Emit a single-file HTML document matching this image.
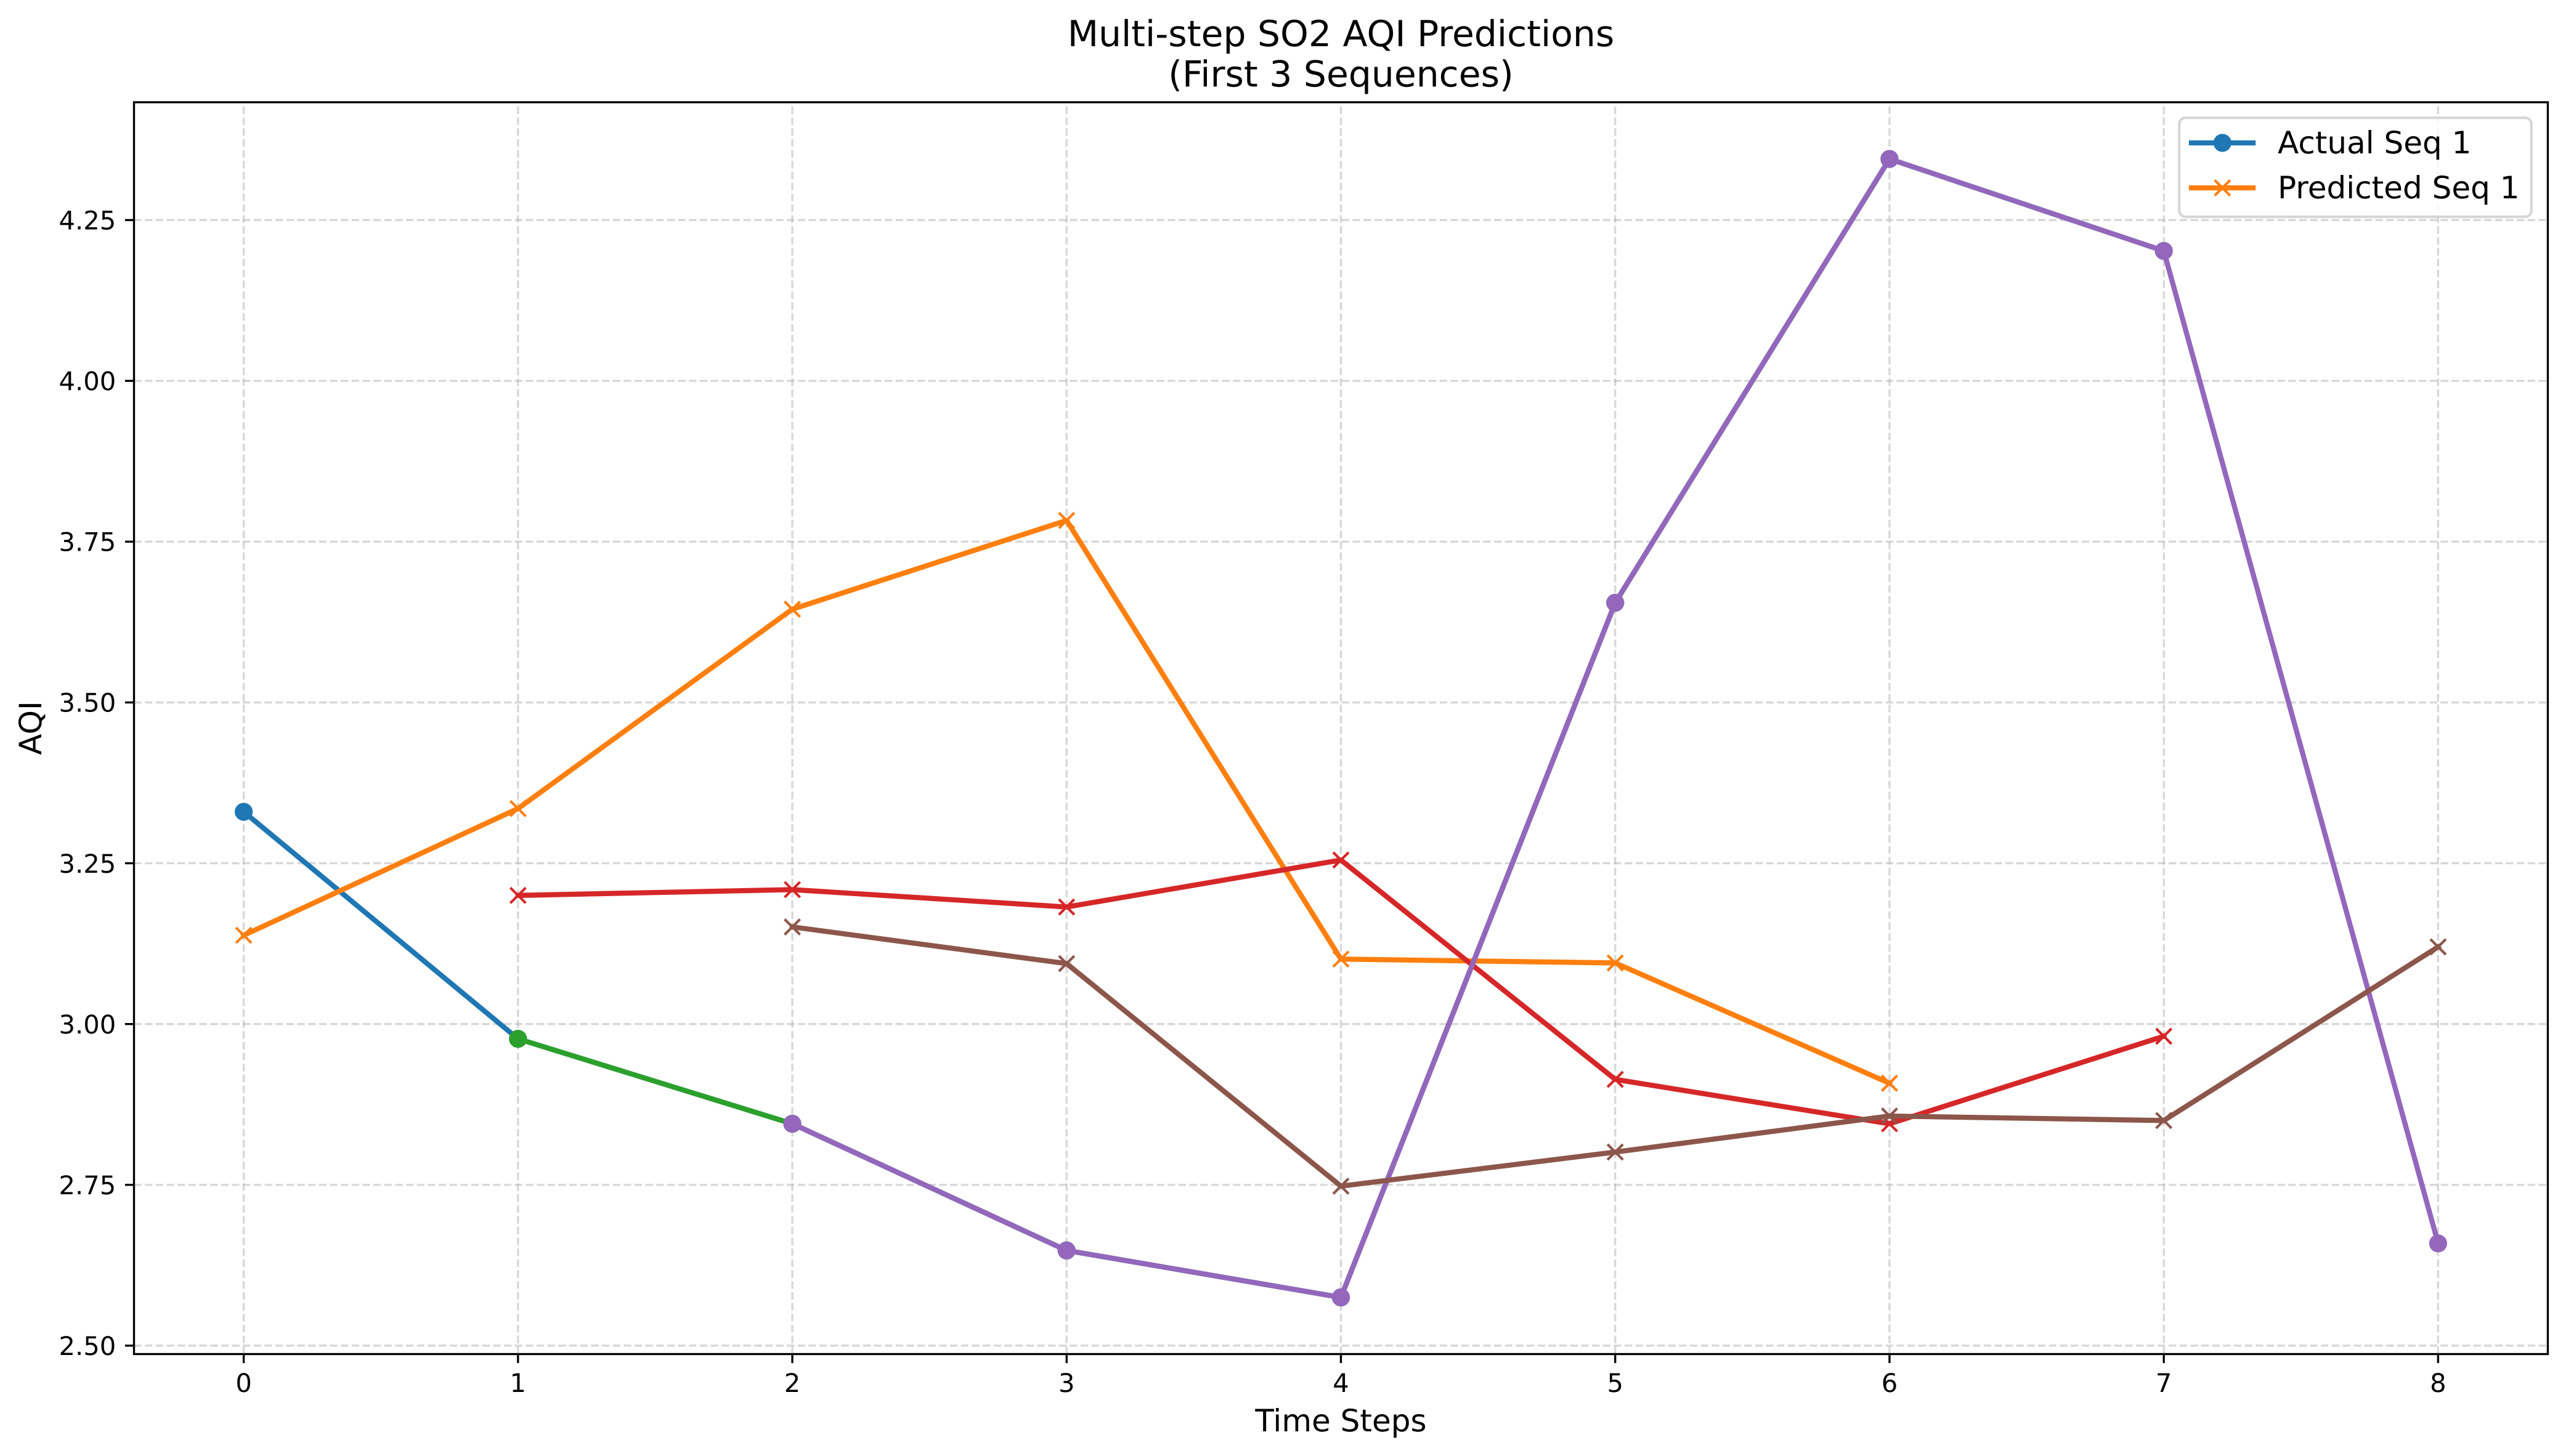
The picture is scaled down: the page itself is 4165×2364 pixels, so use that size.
<!DOCTYPE html>
<html lang="en">
<head>
<meta charset="utf-8">
<title>Multi-step SO2 AQI Predictions</title>
<style>
html,body{margin:0;padding:0;background:#fff;width:4165px;height:2364px;overflow:hidden}
svg{display:block}
text{font-family:"DejaVu Sans","Liberation Sans",sans-serif;fill:#000;text-rendering:geometricPrecision}
</style>
</head>
<body>
<svg id="chart" xmlns="http://www.w3.org/2000/svg" width="4165" height="2364" viewBox="0 0 4165 2364">
  <rect x="0" y="0" width="4165" height="2364" fill="#ffffff"/>
  <text x="2176.5" y="75" font-size="58.33" text-anchor="middle">Multi-step SO2 AQI Predictions</text>
  <text x="2176.5" y="140.5" font-size="58.33" text-anchor="middle">(First 3 Sequences)</text>
  <text x="2176.5" y="2324" font-size="50" text-anchor="middle">Time Steps</text>
  <text x="0" y="0" font-size="50" text-anchor="middle" transform="translate(67 1182) rotate(-90)">AQI</text>
  <g id="grid"></g>
  <g id="series"></g>
  <g id="axes"></g>
  <g>
    <rect x="3537.3" y="191.3" width="571.5" height="160.7" rx="10" ry="10" fill="#ffffff" fill-opacity="0.8" stroke="#cccccc" stroke-opacity="0.8" stroke-width="4.17"/>
    <g>
      <line x1="3557" y1="232" x2="3657" y2="232" stroke="#1f77b4" stroke-width="8.33" stroke-linecap="square"/>
      <circle cx="3607.3" cy="232" r="12.5" fill="#1f77b4" stroke="#1f77b4" stroke-width="4.17"/>
      <text x="3697" y="249" font-size="50">Actual Seq 1</text>
    </g>
    <g>
      <line x1="3557" y1="305" x2="3657" y2="305" stroke="#ff7f0e" stroke-width="8.33" stroke-linecap="square"/>
      <path d="M3594.8 292.5L3619.8 317.5M3594.8 317.5L3619.8 292.5" fill="none" stroke="#ff7f0e" stroke-width="4.17"/>
      <text x="3697" y="322" font-size="50">Predicted Seq 1</text>
    </g>
  </g>
</svg>
<script>
// Chart data
const xTickValues = [0, 1, 2, 3, 4, 5, 6, 7, 8];
const xTickLabels = ["0", "1", "2", "3", "4", "5", "6", "7", "8"];
const yTickValues = [2.5, 2.75, 3, 3.25, 3.5, 3.75, 4, 4.25];
const yTickLabels = ["2.50", "2.75", "3.00", "3.25", "3.50", "3.75", "4.00", "4.25"];

const actualSeq1Steps = [0, 1, 2, 3, 4, 5, 6];
const actualSeq1Values = [3.33, 2.977, 2.845, 2.648, 2.575, 3.655, 4.345];
const predictedSeq1Steps = [0, 1, 2, 3, 4, 5, 6];
const predictedSeq1Values = [3.138, 3.335, 3.645, 3.783, 3.101, 3.095, 2.908];

const actualSeq2Steps = [1, 2, 3, 4, 5, 6, 7];
const actualSeq2Values = [2.977, 2.845, 2.648, 2.575, 3.655, 4.345, 4.202];
const predictedSeq2Steps = [1, 2, 3, 4, 5, 6, 7];
const predictedSeq2Values = [3.2, 3.209, 3.182, 3.255, 2.914, 2.845, 2.981];

const actualSeq3Steps = [2, 3, 4, 5, 6, 7, 8];
const actualSeq3Values = [2.845, 2.648, 2.575, 3.655, 4.345, 4.202, 2.659];
const predictedSeq3Steps = [2, 3, 4, 5, 6, 7, 8];
const predictedSeq3Values = [3.151, 3.094, 2.748, 2.801, 2.857, 2.85, 3.12];

// Axis geometry
const plotLeft = 217.5, plotRight = 4135.5, plotTop = 166, plotBottom = 2198.5;
const xDomainMin = -0.4, xDomainMax = 8.4;
const yAnchorValue = 4.25, yAnchorPixel = 357.3, yPixelsPerUnit = 1044.3;

function xScale(step) {
  return plotLeft + (step - xDomainMin) / (xDomainMax - xDomainMin) * (plotRight - plotLeft);
}
function yScale(value) {
  return yAnchorPixel + (yAnchorValue - value) * yPixelsPerUnit;
}

const SVG_NS = "http://www.w3.org/2000/svg";
function make(tag, attrs, parent) {
  const el = document.createElementNS(SVG_NS, tag);
  for (const key in attrs) el.setAttribute(key, attrs[key]);
  parent.appendChild(el);
  return el;
}

// Grid
const gridGroup = document.getElementById("grid");
const gridStyle = {stroke: "#b0b0b0", "stroke-opacity": 0.5, "stroke-width": 3.33, "stroke-dasharray": "12.33 5.33", fill: "none"};
xTickValues.forEach(function (t, i) {
  const line = make("line", Object.assign({x1: xScale(t), y1: plotBottom, x2: xScale(t), y2: plotTop}, gridStyle), gridGroup);
  
  
});
yTickValues.forEach(function (t, i) {
  const line = make("line", Object.assign({x1: plotLeft, y1: yScale(t), x2: plotRight, y2: yScale(t)}, gridStyle), gridGroup);
  
  
});

// Series, in drawing order
const seriesGroup = document.getElementById("series");
function drawSeries(name, color, marker, steps, values) {
  const group = make("g", {}, seriesGroup);
  
  
  const points = steps.map(function (s, i) { return xScale(s) + "," + yScale(values[i]); }).join(" ");
  const line = make("polyline", {
    points: points, fill: "none", stroke: color, "stroke-width": 8.33,
    "stroke-linecap": "square", "stroke-linejoin": "round"
  }, group);
  
  
  steps.forEach(function (s, i) {
    const cx = xScale(s), cy = yScale(values[i]);
    let mark;
    if (marker === "circle") {
      mark = make("circle", {cx: cx, cy: cy, r: 12.5, fill: color, stroke: color, "stroke-width": 4.17}, group);
    } else {
      const d = "M" + (cx - 12.5) + " " + (cy - 12.5) + "L" + (cx + 12.5) + " " + (cy + 12.5) +
                "M" + (cx - 12.5) + " " + (cy + 12.5) + "L" + (cx + 12.5) + " " + (cy - 12.5);
      mark = make("path", {d: d, fill: "none", stroke: color, "stroke-width": 4.17}, group);
    }
    
    
  });
}
drawSeries("actual-seq-1", "#1f77b4", "circle", actualSeq1Steps, actualSeq1Values);
drawSeries("predicted-seq-1", "#ff7f0e", "x", predictedSeq1Steps, predictedSeq1Values);
drawSeries("actual-seq-2", "#2ca02c", "circle", actualSeq2Steps, actualSeq2Values);
drawSeries("predicted-seq-2", "#d62728", "x", predictedSeq2Steps, predictedSeq2Values);
drawSeries("actual-seq-3", "#9467bd", "circle", actualSeq3Steps, actualSeq3Values);
drawSeries("predicted-seq-3", "#8c564b", "x", predictedSeq3Steps, predictedSeq3Values);

// Axes frame, ticks and tick labels
const axesGroup = document.getElementById("axes");
const frame = make("rect", {
  x: plotLeft, y: plotTop, width: plotRight - plotLeft, height: plotBottom - plotTop,
  fill: "none", stroke: "#000000", "stroke-width": 3.33
}, axesGroup);



xTickValues.forEach(function (t, i) {
  const tick = make("line", {x1: xScale(t), y1: plotBottom, x2: xScale(t), y2: plotBottom + 14.6, stroke: "#000000", "stroke-width": 3.33}, axesGroup);
  
  
  const label = make("text", {x: xScale(t), y: 2260, "font-size": 41.67, "text-anchor": "middle"}, axesGroup);
  
  
  label.textContent = xTickLabels[i];
});
yTickValues.forEach(function (t, i) {
  const tick = make("line", {x1: plotLeft - 14.6, y1: yScale(t), x2: plotLeft, y2: yScale(t), stroke: "#000000", "stroke-width": 3.33}, axesGroup);
  
  
  const label = make("text", {x: 188.3, y: yScale(t) + 15.2, "font-size": 41.67, "text-anchor": "end"}, axesGroup);
  
  
  label.textContent = yTickLabels[i];
});
</script>
</body>
</html>
